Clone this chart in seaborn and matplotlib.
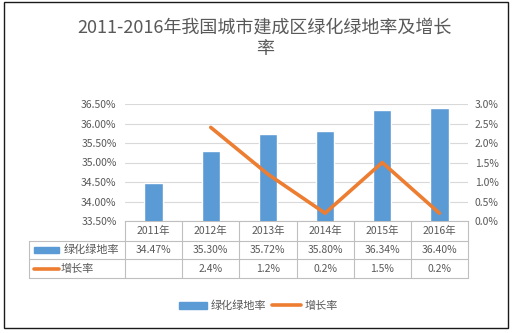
import matplotlib
matplotlib.use("Agg")
import matplotlib.pyplot as plt
import matplotlib.transforms as mtransforms
from matplotlib.lines import Line2D
from matplotlib.patches import Patch, Rectangle
import seaborn as sns
import pandas as pd

# ---- data ----
years = ["2011年", "2012年", "2013年", "2014年", "2015年", "2016年"]
green_rate = [34.47, 35.30, 35.72, 35.80, 36.34, 36.40]          # %
growth = [None, 2.4, 1.2, 0.2, 1.5, 0.2]                          # %
left_ticks = [33.5, 34.0, 34.5, 35.0, 35.5, 36.0, 36.5]
right_ticks = [0.0, 0.5, 1.0, 1.5, 2.0, 2.5, 3.0]
bar_name = "绿化绿地率"
line_name = "增长率"
title = "2011-2016年我国城市建成区绿化绿地率及增长\n率"

BLUE = "#5B9BD5"
ORANGE = "#ED7D31"
TEXT = "#595959"
GRID = "#D9D9D9"
TABLE = "#BFBFBF"

sns.set_theme(style="white")
plt.rcParams["font.family"] = ["Noto Sans CJK SC", "DejaVu Sans"]

W, H = 516, 333
fig = plt.figure(figsize=(W / 100, H / 100), dpi=100)
fig.patch.set_facecolor("white")

# outer frame
fig.add_artist(Rectangle((4 / W, 1 - 328 / H), 504 / W, 326 / H,
                         transform=fig.transFigure, fill=False,
                         edgecolor="#1a1a1a", lw=1.0))

fig.text(265 / W, 1 - 38 / H, title, ha="center", va="center",
         fontsize=13, color=TEXT, linespacing=1.25)

ax = fig.add_axes([125 / W, 1 - 221 / H, 343 / W, 117 / H])

df = pd.DataFrame({"year": years, "rate": green_rate})
sns.barplot(data=df, x="year", y="rate", color=BLUE, width=0.32,
            saturation=1, ax=ax, zorder=3)
ax.set_ylim(left_ticks[0], left_ticks[-1])
ax.set_xlim(-0.5, len(years) - 0.5)
ax.set_yticks(left_ticks)
ax.set_yticklabels([f"{v:.2f}%" for v in left_ticks])
ax.yaxis.grid(True, color=GRID, lw=0.8, zorder=0)
ax.set_axisbelow(True)
ax.set_xticks([])
ax.set_xlabel("")
ax.set_ylabel("")
for s in ["top", "left", "right"]:
    ax.spines[s].set_visible(False)
ax.spines["bottom"].set_color(TABLE)
ax.spines["bottom"].set_linewidth(0.8)
ax.tick_params(axis="y", length=0, pad=6, labelsize=7.5, labelcolor=TEXT)

ax2 = ax.twinx()
gdf = pd.DataFrame({"pos": [i for i, g in enumerate(growth) if g is not None],
                    "growth": [g for g in growth if g is not None]})
sns.lineplot(data=gdf, x="pos", y="growth", color=ORANGE, lw=2.6, ax=ax2,
             zorder=4)
ax2.set_ylim(right_ticks[0], right_ticks[-1])
ax2.set_xlim(-0.5, len(years) - 0.5)
ax2.set_yticks(right_ticks)
ax2.set_yticklabels([f"{v:.1f}%" for v in right_ticks])
ax2.set_ylabel("")
ax2.set_xlabel("")
for s in ax2.spines.values():
    s.set_visible(False)
ax2.tick_params(axis="y", length=0, pad=5, labelsize=7.5, labelcolor=TEXT)

# ---- data table under the plot ----
tr = mtransforms.blended_transform_factory(ax.transData, ax.transAxes)
n = len(years)
ppx = 343 / n  # pixels per category
key_left = -0.5 - (125 - 29) / ppx
row_lines = [0.0, -20 / 117, -38 / 117, -57 / 117]
row_mid = [-10 / 117, -29 / 117, -47.5 / 117]

for yl in row_lines[1:]:
    ax.add_line(Line2D([key_left, n - 0.5], [yl, yl], transform=tr,
                       color=TABLE, lw=0.8, clip_on=False))
ax.add_line(Line2D([key_left, key_left], [row_lines[1], row_lines[3]],
                   transform=tr, color=TABLE, lw=0.8, clip_on=False))
for i in range(n + 1):
    ax.add_line(Line2D([i - 0.5, i - 0.5], [0, row_lines[3]], transform=tr,
                       color=TABLE, lw=0.8, clip_on=False))

for i, y in enumerate(years):
    ax.text(i, row_mid[0], y, transform=tr, ha="center", va="center",
            fontsize=7.5, color=TEXT)
    ax.text(i, row_mid[1], f"{green_rate[i]:.2f}%", transform=tr,
            ha="center", va="center", fontsize=7.5, color=TEXT)
    if growth[i] is not None:
        ax.text(i, row_mid[2], f"{growth[i]:.1f}%", transform=tr,
                ha="center", va="center", fontsize=7.5, color=TEXT)

# legend keys inside the table
k0 = key_left + 5 / ppx
k1 = key_left + 30 / ppx
ax.add_patch(Rectangle((k0, row_mid[1] - 3 / 117), k1 - k0, 6 / 117,
                       transform=tr, color=BLUE, clip_on=False))
ax.add_line(Line2D([k0, k1], [row_mid[2], row_mid[2]], transform=tr,
                   color=ORANGE, lw=2.6, clip_on=False))
ax.text(key_left + 35 / ppx, row_mid[1], bar_name, transform=tr,
        ha="left", va="center", fontsize=8, color=TEXT)
ax.text(key_left + 32 / ppx, row_mid[2], line_name, transform=tr,
        ha="left", va="center", fontsize=8, color=TEXT)

# bottom legend
handles = [Patch(facecolor=BLUE, edgecolor=BLUE),
           Line2D([0], [0], color=ORANGE, lw=2.6)]
leg = fig.legend(handles, [bar_name, line_name], loc="center",
                 bbox_to_anchor=(258 / W, 1 - 306 / H), ncol=2, frameon=False,
                 fontsize=8, handlelength=2.6, handleheight=0.6,
                 handletextpad=0.3, columnspacing=0.5, borderpad=0)
for t in leg.get_texts():
    t.set_color(TEXT)

fig.savefig("out.png", dpi=100, facecolor="white")
